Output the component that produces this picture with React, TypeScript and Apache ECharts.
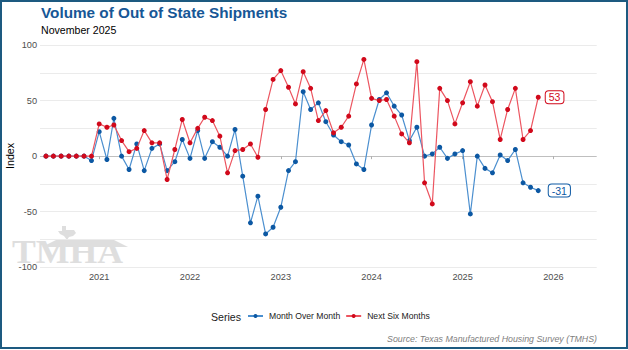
import React, { useEffect, useRef } from 'react';
import * as echarts from 'echarts';

// First observation: June 2020, monthly through November 2025
const START_YEAR = 2020;
const START_MONTH = 6;

const seriesNames = ['Month Over Month', 'Next Six Months'];

const monthOverMonth = [
  0, 0, 0, 0, 0, 0, -4,
  22, -3, 34, 0, -12, 11, -13, 7, 11, -13, -5, 15,
  -2, 23, -2, 13, 8, 0, 24, -18, -60, -36, -70, -64,
  -46, -13, -5, 58, 42, 48, 31, 19, 13, 10, -7, -12,
  28, 51, 57, 45, 37, 14, 26, 0, 2, 8, -2, 2,
  5, -52, 0, -11, -15, 1, -4, 6, -24, -28, -31,
];

const nextSixMonths = [
  0, 0, 0, 0, 0, 0, 0,
  29, 26, 28, 14, 4, 7, 23, 12, 12, -21, 6, 33,
  12, 25, 35, 32, 18, -15, 5, 6, 11, -1, 42, 69,
  77, 62, 47, 76, 61, 32, 41, 21, 26, 36, 65, 87,
  52, 50, 51, 36, 20, 12, 85, -24, -43, 61, 50, 29,
  48, 67, 45, 64, 49, 15, 42, 61, 15, 23, 53,
];

const yMin = -100;
const yMax = 100;
const yStep = 25;
const yLabelStep = 50;

const TITLE = 'Volume of Out of State Shipments';
const SUBTITLE = 'November 2025';
const Y_NAME = 'Index';
const SOURCE = 'Source: Texas Manufactured Housing Survey (TMHS)';

const BLUE_PT = '#0c58a3';
const BLUE_LN = '#4b8fcf';
const RED_PT = '#d1091b';
const RED_LN = '#ec5560';

function monthStamps(n: number): number[] {
  const out: number[] = [];
  for (let i = 0; i < n; i++) {
    out.push(new Date(START_YEAR, START_MONTH - 1 + i, 1).getTime());
  }
  return out;
}

function buildData(values: number[], color: string, dist: number) {
  const ts = monthStamps(values.length);
  return values.map((v, i) => {
    if (i === values.length - 1) {
      return {
        value: [ts[i], v],
        label: {
          show: true,
          position: 'right',
          distance: dist,
          formatter: String(v),
          color: color,
          fontSize: 10.5,
          lineHeight: 11,
          fontFamily: 'Liberation Sans, Arial, sans-serif',
          backgroundColor: '#ffffff',
          borderColor: color,
          borderWidth: 1,
          borderRadius: 3,
          padding: [1, 3, 0, 3],
        },
      };
    }
    return [ts[i], v];
  });
}

export default function App() {
  const ref = useRef<HTMLDivElement>(null);

  useEffect(() => {
    if (!ref.current) return;
    const chart = echarts.init(ref.current, null, { renderer: 'svg' });
    const font = 'Liberation Sans, Arial, sans-serif';
    const nTicks = (yMax - yMin) / yStep + 1;
    const splitColors: string[] = [];
    for (let k = 0; k < nTicks; k++) {
      const v = yMin + k * yStep;
      splitColors.push(v === 0 ? '#bfbfbf' : '#ebebeb');
    }
    const xMin = new Date(2020, 4, 8).getTime();
    const xMax = new Date(2026, 5, 24).getTime();

    chart.setOption({
      animation: false,
      backgroundColor: '#ffffff',
      textStyle: { fontFamily: font },
      title: [
        {
          text: TITLE,
          left: 41,
          top: 5,
          padding: 0,
          textStyle: { fontSize: 15.3, fontWeight: 'bold', color: '#175796', fontFamily: font },
        },
        {
          text: SUBTITLE,
          left: 41,
          top: 24,
          padding: 0,
          textStyle: { fontSize: 10.6, fontWeight: 'normal', color: '#000000', fontFamily: font },
        },
      ],
      legend: {
        data: seriesNames,
        left: 247,
        top: 311.5,
        padding: 0,
        itemWidth: 15,
        itemHeight: 5,
        itemGap: 5,
        textStyle: { fontSize: 8.6, color: '#1a1a1a', fontFamily: font, padding: [0, 0, 0, 1] },
      },
      grid: {
        left: 40,
        right: 31.3,
        top: 45,
        bottom: 82.7,
        containLabel: false,
        outerBoundsMode: 'none',
      },
      xAxis: {
        type: 'time',
        min: xMin,
        max: xMax,
        splitNumber: 6,
        axisLine: { show: false },
        axisTick: {
          show: true,
          length: 3,
          lineStyle: { color: '#b0b0b0' },
          interval: (_i: number, v: any) => {
            const t = typeof v === 'number' ? v : Number(v);
            return !(t === xMin || t === xMax);
          },
        },
        splitLine: { show: false },
        axisLabel: {
          formatter: '{yyyy}',
          color: '#4d4d4d',
          fontSize: 9.2,
          margin: 5,
          fontFamily: font,
          showMinLabel: false,
          showMaxLabel: false,
        },
      },
      yAxis: {
        type: 'value',
        min: yMin,
        max: yMax,
        interval: yStep,
        axisLine: { show: false },
        axisTick: { show: false },
        axisLabel: {
          formatter: (v: number) => (v % yLabelStep === 0 ? String(v) : ''),
          color: '#4d4d4d',
          fontSize: 9.2,
          margin: 3,
          fontFamily: font,
        },
        splitLine: { show: true, lineStyle: { color: splitColors, width: 1 } },
      },
      series: [
        {
          name: seriesNames[0],
          type: 'line',
          data: buildData(monthOverMonth, BLUE_PT, 8),
          symbol: 'circle',
          symbolSize: 5,
          showSymbol: true,
          itemStyle: { color: BLUE_PT },
          lineStyle: { color: BLUE_LN, width: 1.2 },
          z: 3,
        },
        {
          name: seriesNames[1],
          type: 'line',
          data: buildData(nextSixMonths, RED_PT, 5),
          symbol: 'circle',
          symbolSize: 5,
          showSymbol: true,
          itemStyle: { color: RED_PT },
          lineStyle: { color: RED_LN, width: 1.2 },
          z: 4,
        },
      ],
      graphic: [
        {
          type: 'group',
          z: 0,
          silent: true,
          children: [
            {
              type: 'polygon',
              shape: { points: [[42, 247], [58, 239], [112, 239], [128, 247]] },
              style: { fill: '#dedede' },
            },
            {
              type: 'polygon',
              shape: {
                points: [
                  [62, 226], [66, 226], [66, 230], [74, 230], [76, 233], [73, 236],
                  [69, 237], [67, 240], [64, 236], [60, 234], [58, 231], [62, 231],
                ],
              },
              style: { fill: '#dedede' },
            },
            {
              type: 'text',
              x: 12,
              y: 269,
              scaleX: 1.05,
              style: {
                text: 'TMHA',
                font: 'bold 34px "Liberation Serif", "Times New Roman", serif',
                fill: '#dedede',
                textVerticalAlign: 'bottom',
              },
            },
          ],
        },
        {
          type: 'text',
          x: 10,
          y: 156,
          rotation: Math.PI / 2,
          style: {
            text: Y_NAME,
            font: '10.6px "Liberation Sans", Arial, sans-serif',
            fill: '#000000',
            textAlign: 'center',
            textVerticalAlign: 'middle',
          },
        },
        {
          type: 'text',
          x: 211,
          y: 317,
          style: {
            text: 'Series',
            font: '10.6px "Liberation Sans", Arial, sans-serif',
            fill: '#1a1a1a',
            textVerticalAlign: 'middle',
          },
        },
        {
          type: 'text',
          x: 597,
          y: 339,
          style: {
            text: SOURCE,
            font: 'italic 8.8px "Liberation Sans", Arial, sans-serif',
            fill: '#808080',
            textAlign: 'right',
            textVerticalAlign: 'middle',
          },
        },
        {
          type: 'rect',
          shape: { x: 1, y: 1, width: 626, height: 347 },
          style: { fill: 'none', stroke: '#1d5a80', lineWidth: 2 },
          silent: true,
          z: 100,
        },
      ],
    });

    return () => {
      chart.dispose();
    };
  }, []);

  return (
    <div
      ref={ref}
      style={{ position: 'fixed', left: 0, top: 0, width: 628, height: 350 }}
    />
  );
}
